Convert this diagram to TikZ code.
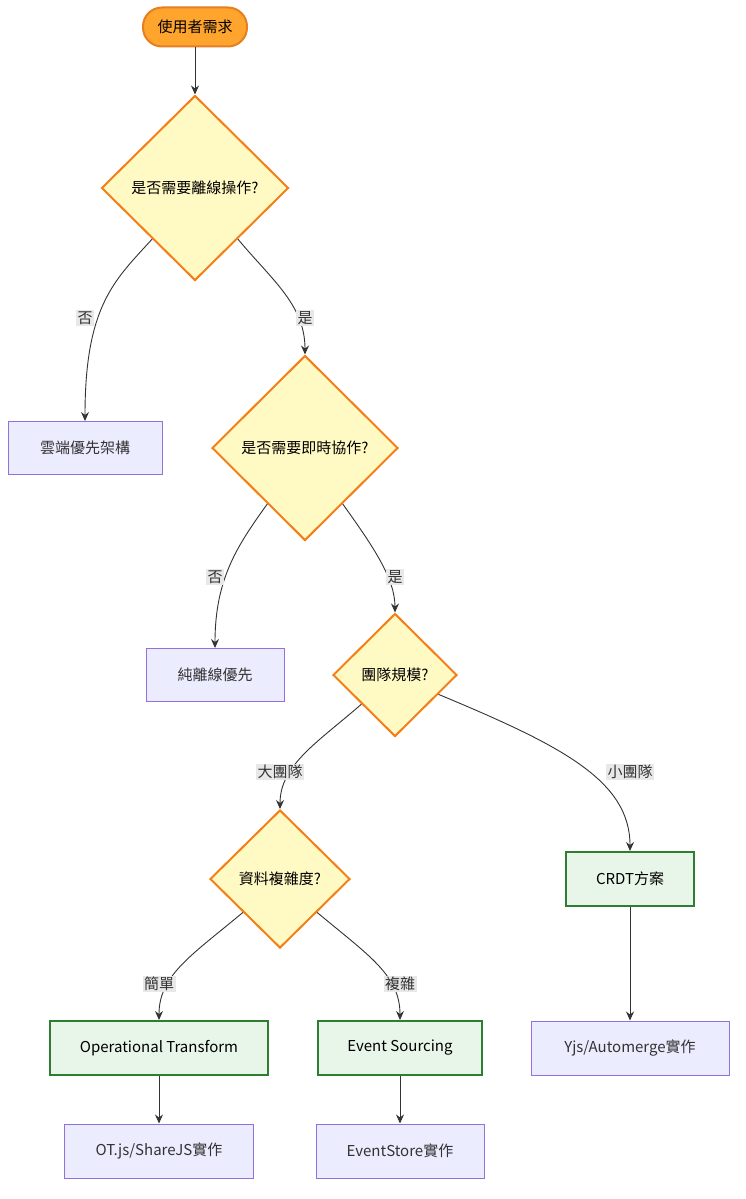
\documentclass[tikz,border=0pt]{standalone}
\usepackage{fontspec}
\setmainfont{Noto Sans CJK TC}
\usetikzlibrary{shapes.geometric,arrows.meta}
\definecolor{startfill}{HTML}{FFA42C}
\definecolor{startdraw}{HTML}{E67E22}
\definecolor{decfill}{HTML}{FFF9C4}
\definecolor{decdraw}{HTML}{F57F17}
\definecolor{procfill}{HTML}{ECECFF}
\definecolor{procdraw}{HTML}{9370DB}
\definecolor{goodfill}{HTML}{E8F5E9}
\definecolor{gooddraw}{HTML}{2E7D32}
\definecolor{edgec}{HTML}{333333}
\definecolor{lblfill}{HTML}{E8E8E8}
\tikzset{
  base/.style={font=\fontsize{15}{18}\selectfont, align=center, inner sep=0pt},
  startn/.style={base, rectangle, rounded corners=19pt, fill=startfill, draw=startdraw, line width=2pt, minimum width=104pt, minimum height=39pt, text=black},
  dec/.style={base, diamond, aspect=1, fill=decfill, draw=decdraw, line width=2pt, text=black},
  proc/.style={base, rectangle, fill=procfill, draw=procdraw, line width=1pt, minimum height=53pt, text=edgec},
  good/.style={base, rectangle, fill=goodfill, draw=gooddraw, line width=2pt, minimum height=54pt, text=black},
  elabel/.style={font=\fontsize{15}{18}\selectfont, fill=lblfill, text=edgec, inner sep=1.5pt},
  arr/.style={draw=edgec, line width=0.9pt, -{Stealth[length=9pt,width=8pt]}}
}
\begin{document}
\begin{tikzpicture}[x=1pt,y=-1pt]
\useasboundingbox (0,0) rectangle (745,1199);
% nodes
\node[startn] (start) at (195,27) {使用者需求};
\node[dec, minimum width=187pt, minimum height=185pt] (d1) at (195,188) {是否需要離線操作?};
\node[proc, minimum width=154pt] (cloud) at (85,448) {雲端優先架構};
\node[dec, minimum width=186pt, minimum height=185pt] (d2) at (305,448) {是否需要即時協作?};
\node[proc, minimum width=138pt] (offline) at (215,675) {純離線優先};
\node[dec, minimum width=124pt, minimum height=123pt] (d3) at (395,675) {團隊規模?};
\node[dec, minimum width=140pt, minimum height=138pt] (d4) at (280,879) {資料複雜度?};
\node[good, minimum width=128pt] (crdt) at (630,879) {CRDT方案};
\node[good, minimum width=218pt] (ot) at (159,1048) {Operational Transform};
\node[good, minimum width=164pt] (es) at (400,1048) {Event Sourcing};
\node[proc, minimum width=198pt, minimum height=54pt] (yjs) at (630,1048) {Yjs/Automerge實作};
\node[proc, minimum width=189pt, minimum height=54pt] (otjs) at (159,1151) {OT.js/ShareJS實作};
\node[proc, minimum width=168pt, minimum height=54pt] (evs) at (400,1151) {EventStore實作};
% edges
\draw[arr] (start) -- (d1);
\draw[arr] (d1.-130) .. controls (115,280) and (85,305) .. (cloud.north);
\draw[arr] (d1.-50) .. controls (272,280) and (305,305) .. (d2.north);
\draw[arr] (d2.-124) .. controls (238,545) and (215,578) .. (offline.north);
\draw[arr] (d2.-56) .. controls (372,545) and (395,578) .. (d3.north);
\draw[arr] (d3.-139) .. controls (318,742) and (280,765) .. (d4.north);
\draw[arr] (d3.-24) .. controls (560,745) and (630,780) .. (crdt.north);
\draw[arr] (d4.-138) .. controls (192,955) and (159,975) .. (ot.north);
\draw[arr] (d4.-42) .. controls (368,955) and (400,975) .. (es.north);
\draw[arr] (ot) -- (otjs);
\draw[arr] (es) -- (evs);
\draw[arr] (crdt) -- (yjs);
% labels
\node[elabel] (l1) at (85,318) {否};
\node[elabel] (l2) at (305,318) {是};
\node[elabel] (l3) at (215,577) {否};
\node[elabel] (l4) at (395,577) {是};
\node[elabel] (l5) at (280,772) {大團隊};
\node[elabel] (l6) at (630,772) {小團隊};
\node[elabel] (l7) at (159,984) {簡單};
\node[elabel] (l8) at (400,984) {複雜};
\end{tikzpicture}
\end{document}
